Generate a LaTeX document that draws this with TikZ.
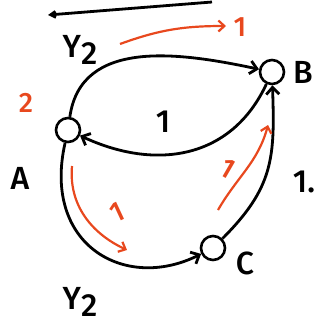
\documentclass[tikz,border=0pt]{standalone}
\usepackage{fontspec}
\setmainfont{Fira Sans Medium}
\usetikzlibrary{arrows.meta}
\definecolor{penred}{RGB}{232,72,30}

\begin{document}
\begin{tikzpicture}[
    x=1pt, y=-1pt,
    vertex/.style={circle, draw=black, line width=2.6pt, fill=white,
                   minimum size=24pt, inner sep=0pt},
    edge/.style={-{Straight Barb[length=7pt, width=13pt]}, line width=2.8pt, black},
    flow/.style={-{Straight Barb[length=6pt, width=11pt]}, line width=2.2pt, penred},
    lbl/.style={font=\fontsize{32}{34}\selectfont, text=black},
    rlbl/.style={font=\fontsize{28}{30}\selectfont, text=penred},
  ]
  \useasboundingbox (0,0) rectangle (320,327);

  % top stroke
  \coordinate (s1) at (212,2);
  \coordinate (s2) at (48,15);
  \draw[-{Straight Barb[length=5pt, width=6pt]}, line width=2.8pt] (s1) -- (s2);

  \node[vertex] (A) at (68,130) {};
  \node[vertex] (B) at (272,72) {};
  \node[vertex, minimum size=24pt] (C) at (213,248) {};

  \draw[edge] (A) to[out=82, in=168, looseness=1.05] (B);
  \draw[edge] (B) to[out=245, in=-25, looseness=1.1] (A);
  \draw[edge] (A) .. controls (42,245) and (125,292) .. (C);
  \draw[edge] (C) to[out=45, in=-88, looseness=1.15] (B);

  % flow arrows
  \coordinate (f1) at (120,44);
  \coordinate (f2) at (226,26);
  \draw[flow] (f1) to[out=20, in=180] (f2);
  \coordinate (f3) at (72,166);
  \coordinate (f4) at (127,250);
  \draw[flow] (f3) to[out=-95, in=155] (f4);
  \coordinate (f5) at (218,210);
  \coordinate (f6) at (268,125);
  \draw[flow] (f5) to[out=60, in=-105] (f6);

  \node[lbl] (la) at (20,178) {A};
  \node[lbl] (lb) at (303,72) {B};
  \node[lbl] (lc) at (245,263) {C};
  \node[lbl] (w1) at (80,50) {Y\raisebox{-7pt}{2}};
  \node[lbl] (w2) at (163,122) {1};
  \node[lbl] (w3) at (304,182) {1.};
  \node[lbl] (w4) at (80,302) {Y\raisebox{-7pt}{2}};

  \node[rlbl] (r1) at (26,103) {2};
  \node[rlbl] (r2) at (240,27) {1};
  \node[rlbl, rotate=25] (r3) at (117,212) {1};
  \node[rlbl, rotate=-30] (r4) at (228,168) {1};
\end{tikzpicture}
\end{document}
